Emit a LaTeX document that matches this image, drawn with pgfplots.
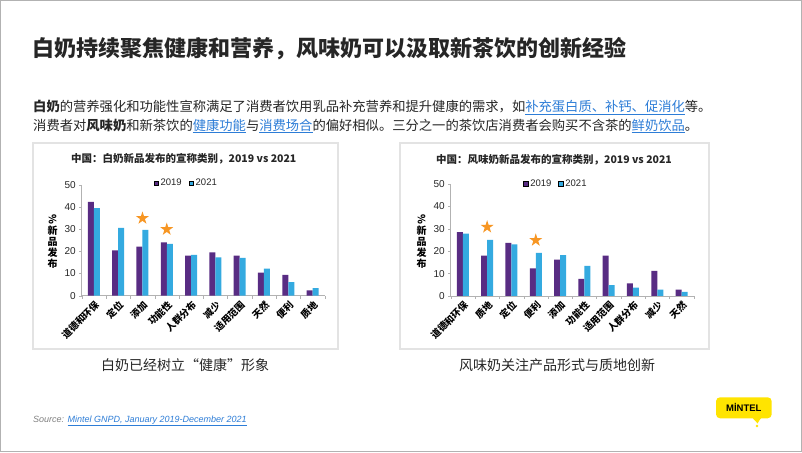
\documentclass[border=0pt]{standalone}
\usepackage{pgfplots}
\pgfplotsset{compat=1.18}
\usepackage{fontspec}
\usepackage{graphicx}
\setmainfont{Liberation Sans}
\newfontfamily\cjk{Noto Sans CJK SC}
\definecolor{cA}{RGB}{88,44,131}
\definecolor{cB}{RGB}{52,170,224}
\definecolor{starorange}{RGB}{247,150,35}
\definecolor{txt}{RGB}{38,38,38}
\definecolor{linkblue}{RGB}{45,125,215}
\definecolor{logoyellow}{RGB}{255,228,0}
\newcommand\lnk[1]{\textcolor{linkblue}{\underline{#1}}}

\pgfdeclareplotmark{fstar}{%
  \pgfpathmoveto{\pgfpointpolar{90}{\pgfplotmarksize}}%
  \pgfpathlineto{\pgfpointpolar{126}{0.382\pgfplotmarksize}}%
  \pgfpathlineto{\pgfpointpolar{162}{\pgfplotmarksize}}%
  \pgfpathlineto{\pgfpointpolar{198}{0.382\pgfplotmarksize}}%
  \pgfpathlineto{\pgfpointpolar{234}{\pgfplotmarksize}}%
  \pgfpathlineto{\pgfpointpolar{270}{0.382\pgfplotmarksize}}%
  \pgfpathlineto{\pgfpointpolar{306}{\pgfplotmarksize}}%
  \pgfpathlineto{\pgfpointpolar{342}{0.382\pgfplotmarksize}}%
  \pgfpathlineto{\pgfpointpolar{18}{\pgfplotmarksize}}%
  \pgfpathlineto{\pgfpointpolar{54}{0.382\pgfplotmarksize}}%
  \pgfpathclose
  \pgfusepathqfill
}

\pgfplotsset{
  panel/.style={
    anchor=south west, scale only axis, width=243pt,
    xmin=-0.5, xmax=9.5, ymin=0, ymax=50,
    xtick={0,...,9}, ytick={0,10,...,50},
    minor xtick={-0.5,0.5,...,9.5},
    axis x line*=bottom, axis y line*=left,
    axis line style={draw=gray!60, line width=0.6pt},
    major x tick style={draw=none},
    minor x tick style={draw=gray!60},
    ytick style={draw=gray!60},
    tick align=outside, major tick length=2.5pt, minor tick length=3pt,
    yticklabel style={font=\fontsize{10}{10}\selectfont, text=txt},
    xticklabel style={rotate=45, anchor=north east, font=\cjk\bfseries\fontsize{9.5}{9.5}\selectfont, inner sep=1pt, text=black},
    /pgf/number format/assume math mode=true,
    title style={font=\cjk\bfseries\fontsize{10.5}{12}\selectfont, anchor=center, text=txt},
    legend style={anchor=center, draw=none, fill=none, legend columns=2,
      font=\fontsize{9.5}{10}\selectfont, text=txt, inner sep=0pt,
      /tikz/every even column/.append style={column sep=5pt}},
    legend image code/.code={\fill[##1] (0pt,-2.3pt) rectangle (4.6pt,2.3pt);},
    ylabel={\rotatebox{-90}{\%}\\新\\品\\发\\布},
    every axis y label/.style={at={(axis description cs:-0.12,0.488)}, anchor=center, align=center, font=\cjk\bfseries\fontsize{10}{11}\selectfont, text=black},
    clip=false,
  }
}

\begin{document}
\begin{tikzpicture}
\begin{scope}[x=1pt,y=1pt]
\fill[white] (0,0) rectangle (802,452);
\useasboundingbox (0,0) rectangle (802,452);
\draw[gray!60, line width=1.2pt] (0.6,0.6) rectangle (801.4,451.4);
% title
\node[anchor=west, inner sep=0pt, text=txt] at (32.5,403.7) {\cjk\bfseries\fontsize{22}{26}\selectfont 白奶持续聚焦健康和营养，风味奶可以汲取新茶饮的创新经验};
% body
\node[anchor=west, inner sep=0pt, text=txt] at (33,345) {\cjk\fontsize{13.3}{16}\selectfont {\bfseries 白奶}的营养强化和功能性宣称满足了消费者饮用乳品补充营养和提升健康的需求，如\lnk{补充蛋白质、补钙、促消化}等。};
\node[anchor=west, inner sep=0pt, text=txt] at (33,326) {\cjk\fontsize{13.3}{16}\selectfont 消费者对{\bfseries 风味奶}和新茶饮的\lnk{健康功能}与\lnk{消费场合}的偏好相似。三分之一的茶饮店消费者会购买不含茶的\lnk{鲜奶饮品}。};
% panels
\draw[draw=gray!22, line width=1.5pt, fill=white] (33,309) rectangle (338,103);
\draw[draw=gray!22, line width=1.5pt, fill=white] (400,309) rectangle (709,103);
% captions
\node[text=txt] at (185,87) {\cjk\fontsize{14}{16}\selectfont 白奶已经树立“健康”形象};
\node[text=txt] at (557,87) {\cjk\fontsize{14}{16}\selectfont 风味奶关注产品形式与质地创新};
% source
\node[anchor=west, inner sep=0pt] at (33,31) {\itshape\fontsize{9}{11}\selectfont \textcolor{gray}{Source: }\lnk{Mintel GNPD, January 2019-December 2021}};
% logo
\fill[logoyellow, rounded corners=4pt] (716,33.7) rectangle (771.7,54.7);
\fill[logoyellow] (752,35) .. controls (755,30) and (757,31) .. (757.5,28.5) .. controls (759,31) and (760,33) .. (762,35) -- cycle;
\fill[logoyellow] (757,26) circle (1.4);
\node[text=black] at (743.8,44.2) {\bfseries\fontsize{9.5}{10}\selectfont MİNTEL};
\end{scope}

\begin{axis}[panel, at={(81.7pt,156.3pt)}, height=111pt,
  xticklabels={道德和环保,定位,添加,功能性,人群分布,减少,适用范围,天然,便利,质地},
  title={中国：白奶新品发布的宣称类别，2019 vs 2021},
  title style={at={(axis description cs:0.42,1.178)}},
  legend style={at={(axis description cs:0.43,1.015)}},
]
\addplot[ybar, bar width=6pt, bar shift=-3pt, fill=cA, draw=none, forget plot] coordinates {
(0,42.3) (1,20.4) (2,22.1) (3,24.0) (4,18.0) (5,19.5) (6,18.0) (7,10.4) (8,9.4) (9,2.4)};
\addplot[ybar, bar width=6pt, bar shift=3pt, fill=cB, draw=none, forget plot] coordinates {
(0,39.4) (1,30.6) (2,29.6) (3,23.3) (4,18.4) (5,17.3) (6,17.0) (7,12.2) (8,6.1) (9,3.4)};
\addplot[only marks, mark=fstar, mark size=6.8pt, color=starorange, forget plot] coordinates {(2,34.9) (3,29.9)};
\addlegendimage{fill=cA}\addlegendentry{2019}
\addlegendimage{fill=cB}\addlegendentry{2021}
\end{axis}

\begin{axis}[panel, at={(450.7pt,156pt)}, height=112pt,
  xticklabels={道德和环保,质地,定位,便利,添加,功能性,适用范围,人群分布,减少,天然},
  title={中国：风味奶新品发布的宣称类别，2019 vs 2021},
  title style={at={(axis description cs:0.425,1.163)}},
  legend style={at={(axis description cs:0.433,1.003)}},
]
\addplot[ybar, bar width=6pt, bar shift=-3pt, fill=cA, draw=none, forget plot] coordinates {
(0,28.5) (1,18.0) (2,23.7) (3,12.3) (4,16.2) (5,7.6) (6,18.0) (7,5.6) (8,11.2) (9,2.8)};
\addplot[ybar, bar width=6pt, bar shift=3pt, fill=cB, draw=none, forget plot] coordinates {
(0,27.8) (1,25.0) (2,23.0) (3,19.2) (4,18.3) (5,13.4) (6,4.8) (7,3.7) (8,2.8) (9,1.8)};
\addplot[only marks, mark=fstar, mark size=6.8pt, color=starorange, forget plot] coordinates {(1,30.8) (3,24.9)};
\addlegendimage{fill=cA}\addlegendentry{2019}
\addlegendimage{fill=cB}\addlegendentry{2021}
\end{axis}
\end{tikzpicture}
\end{document}
